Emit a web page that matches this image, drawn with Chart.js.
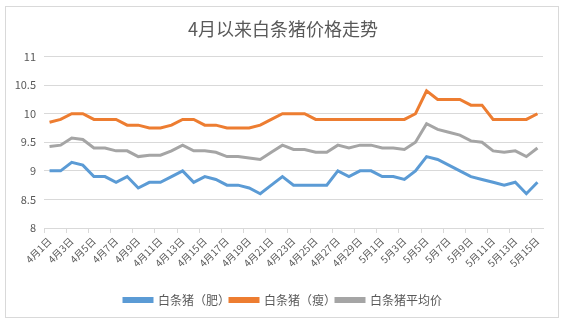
<!DOCTYPE html>
<html>
<head>
<meta charset="utf-8">
<script src="https://cdn.jsdelivr.net/npm/chart.js@4/dist/chart.umd.min.js"></script>
<style>
  html, body { margin: 0; padding: 0; background: #fff; }
  #wrap { position: relative; width: 566px; height: 322px; }
  #frame { position: absolute; left: 5px; top: 6px; width: 554px; height: 312px;
           box-sizing: border-box; border: 1px solid #d9d9d9; pointer-events: none; }
</style>
</head>
<body>
<div id="wrap">
  <canvas id="priceChart" width="566" height="322"></canvas>
  <div id="frame"></div>
</div>
<script>
  // 日期 4月1日 - 5月15日
  const dates = [
    '4月1日','4月2日','4月3日','4月4日','4月5日','4月6日','4月7日','4月8日','4月9日','4月10日',
    '4月11日','4月12日','4月13日','4月14日','4月15日','4月16日','4月17日','4月18日','4月19日','4月20日',
    '4月21日','4月22日','4月23日','4月24日','4月25日','4月26日','4月27日','4月28日','4月29日','4月30日',
    '5月1日','5月2日','5月3日','5月4日','5月5日','5月6日','5月7日','5月8日','5月9日','5月10日',
    '5月11日','5月12日','5月13日','5月14日','5月15日'
  ];

  const fatPrices = [
    9.0, 9.0, 9.15, 9.1, 8.9, 8.9, 8.8, 8.9, 8.7, 8.8,
    8.8, 8.9, 9.0, 8.8, 8.9, 8.85, 8.75, 8.75, 8.7, 8.6,
    8.75, 8.9, 8.75, 8.75, 8.75, 8.75, 9.0, 8.9, 9.0, 9.0,
    8.9, 8.9, 8.85, 9.0, 9.25, 9.2, 9.1, 9.0, 8.9, 8.85,
    8.8, 8.75, 8.8, 8.6, 8.8
  ];

  const leanPrices = [
    9.85, 9.9, 10.0, 10.0, 9.9, 9.9, 9.9, 9.8, 9.8, 9.75,
    9.75, 9.8, 9.9, 9.9, 9.8, 9.8, 9.75, 9.75, 9.75, 9.8,
    9.9, 10.0, 10.0, 10.0, 9.9, 9.9, 9.9, 9.9, 9.9, 9.9,
    9.9, 9.9, 9.9, 10.0, 10.4, 10.25, 10.25, 10.25, 10.15, 10.15,
    9.9, 9.9, 9.9, 9.9, 10.0
  ];

  const avgPrices = [
    9.425, 9.45, 9.575, 9.55, 9.4, 9.4, 9.35, 9.35, 9.25, 9.275,
    9.275, 9.35, 9.45, 9.35, 9.35, 9.325, 9.25, 9.25, 9.225, 9.2,
    9.325, 9.45, 9.375, 9.375, 9.325, 9.325, 9.45, 9.4, 9.45, 9.45,
    9.4, 9.4, 9.375, 9.5, 9.825, 9.725, 9.675, 9.625, 9.525, 9.5,
    9.35, 9.325, 9.35, 9.25, 9.4
  ];

  const yTicks = [8, 8.5, 9, 9.5, 10, 10.5, 11];

  const font = '"Noto Sans CJK SC", "Microsoft YaHei", sans-serif';
  const textColor = '#595959';
  const gridColor = '#d9d9d9';

  new Chart(document.getElementById('priceChart'), {
    type: 'line',
    data: {
      labels: dates,
      datasets: [{
        label: '白条猪（肥）',
        data: fatPrices,
        borderColor: '#5b9bd5',
        backgroundColor: '#5b9bd5',
        borderWidth: 3,
        pointRadius: 0,
        tension: 0
      }, {
        label: '白条猪（瘦）',
        data: leanPrices,
        borderColor: '#ed7d31',
        backgroundColor: '#ed7d31',
        borderWidth: 3,
        pointRadius: 0,
        tension: 0
      }, {
        label: '白条猪平均价',
        data: avgPrices,
        borderColor: '#a5a5a5',
        backgroundColor: '#a5a5a5',
        borderWidth: 3,
        pointRadius: 0,
        tension: 0
      }]
    },
    options: {
      responsive: false,
      animation: false,
      layout: { padding: { left: 0, right: 0, top: 0, bottom: 6 } },
      plugins: {
        title: {
          display: true,
          text: '4月以来白条猪价格走势',
          color: textColor,
          font: { family: font, size: 18, weight: 'normal', lineHeight: 1.2 },
          padding: { top: 18, bottom: 17 }
        },
        legend: {
          position: 'bottom',
          labels: {
            color: textColor,
            font: { family: font, size: 12 },
            boxWidth: 28,
            boxHeight: 3,
            padding: 0
          }
        },
        tooltip: { enabled: false }
      },
      scales: {
        x: {
          offset: true,
          afterFit: function(scale) { scale.height = 66; },
          grid: {
            offset: true,
            drawOnChartArea: false,
            tickLength: 5,
            tickColor: ctx => ctx.index % 2 === 0 ? gridColor : 'rgba(0,0,0,0)'
          },
          border: { color: gridColor },
          ticks: {
            autoSkip: false,
            maxRotation: 45,
            minRotation: 45,
            padding: 2,
            color: textColor,
            font: { family: font, size: 10 },
            callback: function(value, index) {
              return index % 2 === 0 ? this.getLabelForValue(value) : '';
            }
          }
        },
        y: {
          min: 8,
          max: 11,
          afterFit: function(scale) { scale.width = 44; },
          afterBuildTicks: function(scale) {
            scale.ticks = yTicks.map(v => ({ value: v }));
          },
          grid: { color: gridColor, drawTicks: false },
          border: { display: false },
          ticks: {
            padding: 8,
            color: textColor,
            font: { family: font, size: 11 },
            callback: v => String(v)
          }
        },
        // empty right margin so the legend stays centred on the whole frame
        spacer: {
          position: 'right',
          grid: { display: false },
          border: { display: false },
          ticks: { display: false },
          afterFit: function(scale) { scale.width = 23; }
        }
      }
    }
  });
</script>
</body>
</html>
